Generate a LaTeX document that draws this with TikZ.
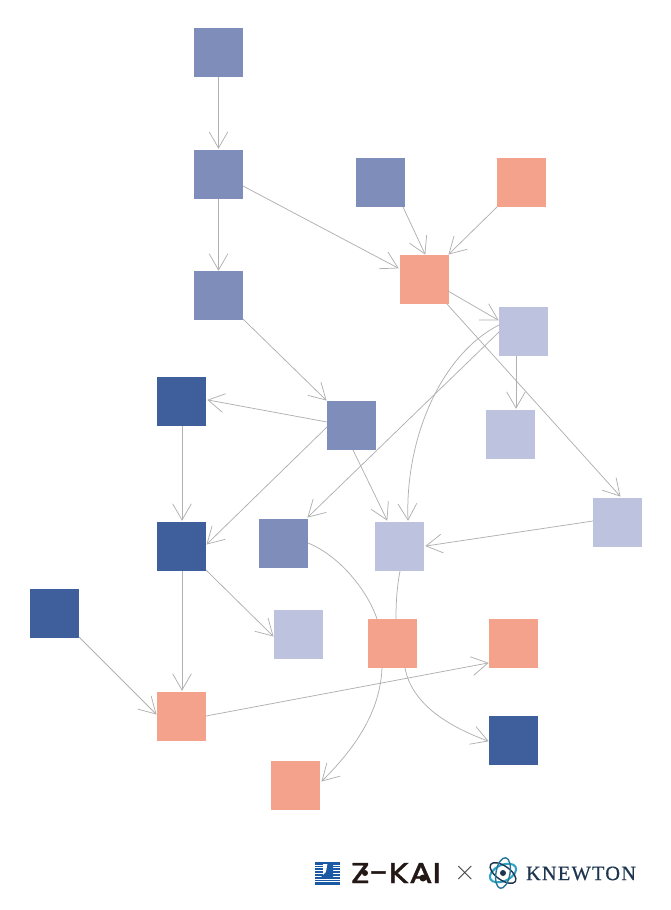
\documentclass[tikz,border=0pt]{standalone}
\usepackage{fontspec}
\newfontfamily\zkfont[FakeBold=1.2]{Poppins}
\newfontfamily\knfont[LetterSpace=6,FakeBold=0.5]{Liberation Serif}
\usetikzlibrary{arrows.meta,calc}
\definecolor{midblue}{HTML}{7F8DBB}
\definecolor{darkblue}{HTML}{3F5F9C}
\definecolor{lightblue}{HTML}{BDC3DE}
\definecolor{salmon}{HTML}{F4A28C}
\definecolor{linegray}{HTML}{B0B0B0}
\definecolor{navy}{HTML}{1E3550}
\definecolor{zblue}{HTML}{1A5AA5}
\definecolor{teal}{HTML}{2FA3C4}
\definecolor{zblack}{HTML}{231815}
\pgfdeclarearrow{
  name=VBarb,
  setup code={%
    \pgfarrowssettipend{0pt}%
    \pgfarrowssetlineend{-0.5pt}%
    \pgfarrowssetvisualtipend{0pt}%
    \pgfarrowssetbackend{-16.3pt}%
    \pgfarrowssetvisualbackend{-0.5pt}%
  },
  drawing code={%
    \pgfsetdash{}{0pt}%
    \pgfsetmiterjoin
    \pgfpathmoveto{\pgfqpoint{-16.3pt}{9.4pt}}%
    \pgfpathlineto{\pgfqpoint{0pt}{0pt}}%
    \pgfpathlineto{\pgfqpoint{-16.3pt}{-9.4pt}}%
    \pgfusepathqstroke
  },
}
\tikzset{
  sq/.style={minimum size=49pt,inner sep=0pt,outer sep=0pt,fill=#1},
  conn/.style={draw=linegray,line width=0.75pt,-{VBarb}},
}
\begin{document}
\begin{tikzpicture}[x=1pt,y=-1pt]
\useasboundingbox (0,0) rectangle (670,910);
\node[sq=midblue] (a1) at (218.5,52.5) {};
\node[sq=midblue] (a2) at (218.5,174.5) {};
\node[sq=midblue] (a3) at (218.5,295.5) {};
\node[sq=midblue] (b1) at (380.5,182.5) {};
\node[sq=salmon] (b2) at (521.5,182.5) {};
\node[sq=salmon] (c) at (424.5,279.5) {};
\node[sq=lightblue] (d) at (523.5,331.5) {};
\node[sq=lightblue] (e) at (510.5,434.5) {};
\node[sq=lightblue] (f) at (617.5,522.5) {};
\node[sq=midblue] (g) at (351.5,425.5) {};
\node[sq=darkblue] (h) at (181.5,401.5) {};
\node[sq=darkblue] (i) at (181.5,546.5) {};
\node[sq=midblue] (j) at (283.5,543.5) {};
\node[sq=lightblue] (k) at (399.5,546.5) {};
\node[sq=darkblue] (l) at (54.5,613.5) {};
\node[sq=lightblue] (m) at (298.5,634.5) {};
\node[sq=salmon] (n) at (392.5,643.5) {};
\node[sq=salmon] (o) at (513.5,643.5) {};
\node[sq=darkblue] (p) at (513.5,740.5) {};
\node[sq=salmon] (q) at (181.5,716.5) {};
\node[sq=salmon] (r) at (295.5,785.5) {};

\draw[conn] ($(a1)+(0,24.5)$) -- ($(a2)+(0,-26.5)$);
\draw[conn] ($(a2)+(0,24.5)$) -- ($(a3)+(0,-25.5)$);
\draw[conn] ($(a2)+(24.5,11.5)$) -- ($(c)+(-26.5,-11.5)$);
\draw[conn] ($(b1)+(22.5,24.5)$) -- ($(c)+(0.5,-25.5)$);
\draw[conn] ($(b2)+(-24.5,24.5)$) -- ($(c)+(24.5,-25.5)$);
\draw[conn] ($(c)+(23.5,11.5)$) -- ($(d)+(-25.5,-11.5)$);
\draw[conn] ($(c)+(22.5,24.5)$) -- ($(f)+(2.5,-26.5)$);
\draw[conn] ($(d)+(-7.5,24.5)$) -- ($(e)+(5.5,-26.5)$);
\draw[conn] ($(d)+(-24.5,-6.5)$) .. controls +(-59,30) and +(-3,-80) .. ($(k)+(8.5,-26.5)$);
\draw[conn] ($(d)+(-24.5,0.5)$) -- ($(j)+(24.5,-26.5)$);
\draw[conn] ($(a3)+(24.5,23.5)$) -- ($(g)+(-25.5,-25.5)$);
\draw[conn] ($(g)+(-24.5,-3.5)$) -- ($(h)+(26.5,-1.5)$);
\draw[conn] ($(g)+(-24.5,1.5)$) -- ($(i)+(25.5,-2.5)$);
\draw[conn] ($(g)+(1.5,24.5)$) -- ($(k)+(-12.5,-26.5)$);
\draw[conn] ($(h)+(0.5,24.5)$) -- ($(i)+(0.5,-26.5)$);
\draw[conn] ($(i)+(24.5,23.5)$) -- ($(m)+(-25.5,1.5)$);
\draw[conn] ($(i)+(0.5,24.5)$) -- ($(q)+(0.5,-26.5)$);
\draw[conn] ($(l)+(24.5,23.5)$) -- ($(q)+(-25.5,-2.5)$);
\draw[conn] ($(f)+(-24.5,-1.5)$) -- ($(k)+(26.5,-0.5)$);
\draw[conn,-] ($(j)+(24.5,-0.5)$) .. controls +(30,12) and +(-10,-30) .. ($(n)+(-15.5,-24.5)$);
\draw[conn,-] ($(k)+(0.5,24.5)$) .. controls +(-3,16) and +(0,-18) .. ($(n)+(3.5,-24.5)$);
\draw[conn] ($(q)+(24.5,-0.5)$) -- ($(o)+(-25.5,19.5)$);
\draw[conn] ($(n)+(-10.5,24.5)$) .. controls +(-2,50) and +(25,-25) .. ($(r)+(26.5,-4.5)$);
\draw[conn] ($(n)+(12.5,24.5)$) .. controls +(7,37) and +(-38,-14) .. ($(p)+(-25.5,0.5)$);

% Z-KAI emblem
\fill[zblue] (315,862) rectangle (340,885);
\foreach \yy in {864.6,867.4,870.2,873,875.8,878.6,881.4}
  \fill[white] (315,\yy) rectangle (340,\yy+1);
\fill[white] (323,863.5) rectangle (333,876);
\fill[zblue] (327.5,864) -- (333,864) -- (333,877) -- (321,877) -- (326,872) -- cycle;
% wordmark
\node[inner sep=0pt,text=zblack] (zk) at (396,873) {\resizebox{90pt}{20pt}{\zkfont Z-KAI}};
\fill[zblack] (365,873) circle (3pt);
\fill[zblack] (423,878) circle (3.5pt);
\node[inner sep=0pt,text=black!75] (times) at (465,873.5) {\fontsize{30pt}{30pt}\selectfont ×};
% Knewton atom
\draw[teal,line width=2pt,rotate around={25:(503,873)}] (503,873) ellipse (14pt and 8pt);
\draw[navy,line width=1.4pt,rotate around={-35:(503,873)}] (503,873) ellipse (15pt and 7pt);
\draw[teal!60!navy,line width=1.4pt,rotate around={80:(503,873)}] (503,873) ellipse (15.5pt and 7pt);
\fill[navy] (503,873) circle (3pt);
\node[inner sep=0pt,text=navy] (kn) at (581,873.5) {\resizebox{110pt}{13.5pt}{\knfont KNEWTON}};
\end{tikzpicture}
\end{document}
